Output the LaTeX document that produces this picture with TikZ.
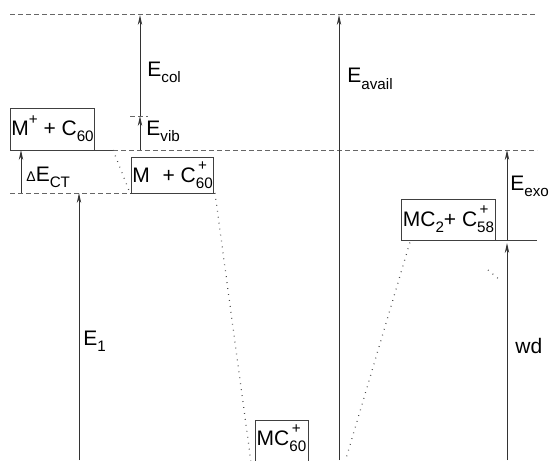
\documentclass[tikz,border=0pt]{standalone}
\usepackage{fontspec}
\setmainfont{Liberation Sans}
\usetikzlibrary{arrows.meta}
\newcommand\lo[1]{\raisebox{-0.55ex}{\fontsize{7.6}{9}\selectfont #1}}
\newcommand\hi[1]{\raisebox{1.0ex}{\fontsize{7.6}{9}\selectfont #1}}
\newcommand\losup[2]{\makebox[0pt][l]{\hspace{1.2pt}\raisebox{1.05ex}{\fontsize{7.6}{9}\selectfont #2}}\raisebox{-0.55ex}{\fontsize{7.6}{9}\selectfont #1}}
\tikzset{
  lvl/.style={line width=0.5pt, black!75},
  dashlvl/.style={line width=0.5pt, black!60, dash pattern=on 2.4pt off 1.6pt},
  dotln/.style={line width=0.6pt, black!70, dash pattern=on 0.4pt off 2.6pt},
  en/.style={line width=0.45pt, black!80, -{Stealth[length=5pt,width=2.2pt]}},
  statebox/.style={draw=black!75, line width=0.5pt, inner sep=0.5pt, font=\fontsize{10.5}{12}\selectfont},
  lab/.style={anchor=base west, inner sep=0pt, font=\fontsize{10.5}{12}\selectfont}
}
\begin{document}
\begin{tikzpicture}[x=0.5pt,y=-0.5pt]
\useasboundingbox (0,0) rectangle (549,460);
\clip (0,0) rectangle (549,460);
% level coordinates
\coordinate (tL) at (10,15);
\coordinate (tR) at (537,15);
\coordinate (aL) at (10,150);
\coordinate (aE) at (113,150);
\coordinate (aR) at (537,150);
\coordinate (bL) at (10,193);
\coordinate (bS) at (130,193);
\coordinate (bE) at (215,193);
\coordinate (cS) at (403,240);
\coordinate (cE) at (537,240);
\coordinate (cD) at (410,242);
\coordinate (dA) at (251,462);
\coordinate (dB) at (345,462);
\coordinate (vib) at (140,116);
\coordinate (vibL) at (130,116);
\coordinate (vibR) at (148,116);
\coordinate (t1) at (488,270);
\coordinate (t2) at (500,280);
% state boxes
\node[statebox, minimum width=40.5pt, minimum height=21pt] (s1) at (52.5,129) {M\hi{+} + C\lo{60}};
\node[statebox, minimum width=40.5pt, minimum height=18pt] (s2) at (172.5,175) {M\,\, + C\losup{60}{+}};
\node[statebox, minimum width=26.5pt, minimum height=30pt, anchor=north west] (s3) at (255,420) {};
\node[inner sep=0pt, font=\fontsize{10.5}{12}\selectfont] (s3t) at (281.5,438) {MC\losup{60}{+}};
\node[statebox, minimum width=45.5pt, minimum height=20.5pt] (s4) at (448.5,219.5) {MC\lo{2}+ C\losup{58}{+}};
% levels
\draw[dashlvl] (tL) -- (tR);
\draw[lvl] (aL) -- (aE);
\draw[dashlvl] (aE) -- (aR);
\draw[dashlvl] (bL) -- (bS);
\draw[lvl] (bS) -- (bE);
\draw[lvl] (cS) -- (cE);
\draw[dashlvl] (vibL) -- (vibR);
% dotted correlations
\draw[dotln] (aE) -- (bS);
\draw[dotln] (bE) -- (dA);
\draw[dotln] (dB) -- (cD);
\draw[dotln] (t1) -- (t2);
% energy arrows
\coordinate (e1b) at (79,460); \coordinate (e1t) at (79,193);
\coordinate (ctb) at (21,193); \coordinate (ctt) at (21,150);
\coordinate (vb) at (140,150);
\coordinate (ct) at (140,15);
\coordinate (avb) at (339,460); \coordinate (avt) at (339,15);
\coordinate (exb) at (507,240); \coordinate (ext) at (507,150);
\coordinate (wdb) at (507,460); \coordinate (wdt) at (507,243);
\draw[en] (e1b) -- (e1t);
\draw[en] (ctb) -- (ctt);
\draw[en] (vb) -- (vib);
\draw[en] (vib) -- (ct);
\draw[en] (avb) -- (avt);
\draw[en] (exb) -- (ext);
\draw[en] (wdb) -- (wdt);
% labels
\node[lab] (lcol) at (147,76) {E\lo{col}};
\node[lab] (lvib) at (146,135) {E\lo{vib}};
\node[lab] (lct) at (26,181) {{\fontsize{7}{8}\selectfont Δ}E\lo{CT}};
\node[lab] (l1) at (83,345) {E\lo{1}};
\node[lab] (lav) at (347,83) {E\lo{avail}};
\node[lab] (lex) at (510,190) {E\lo{exo}};
\node[lab] (lwd) at (515,353) {wd};
\end{tikzpicture}
\end{document}
